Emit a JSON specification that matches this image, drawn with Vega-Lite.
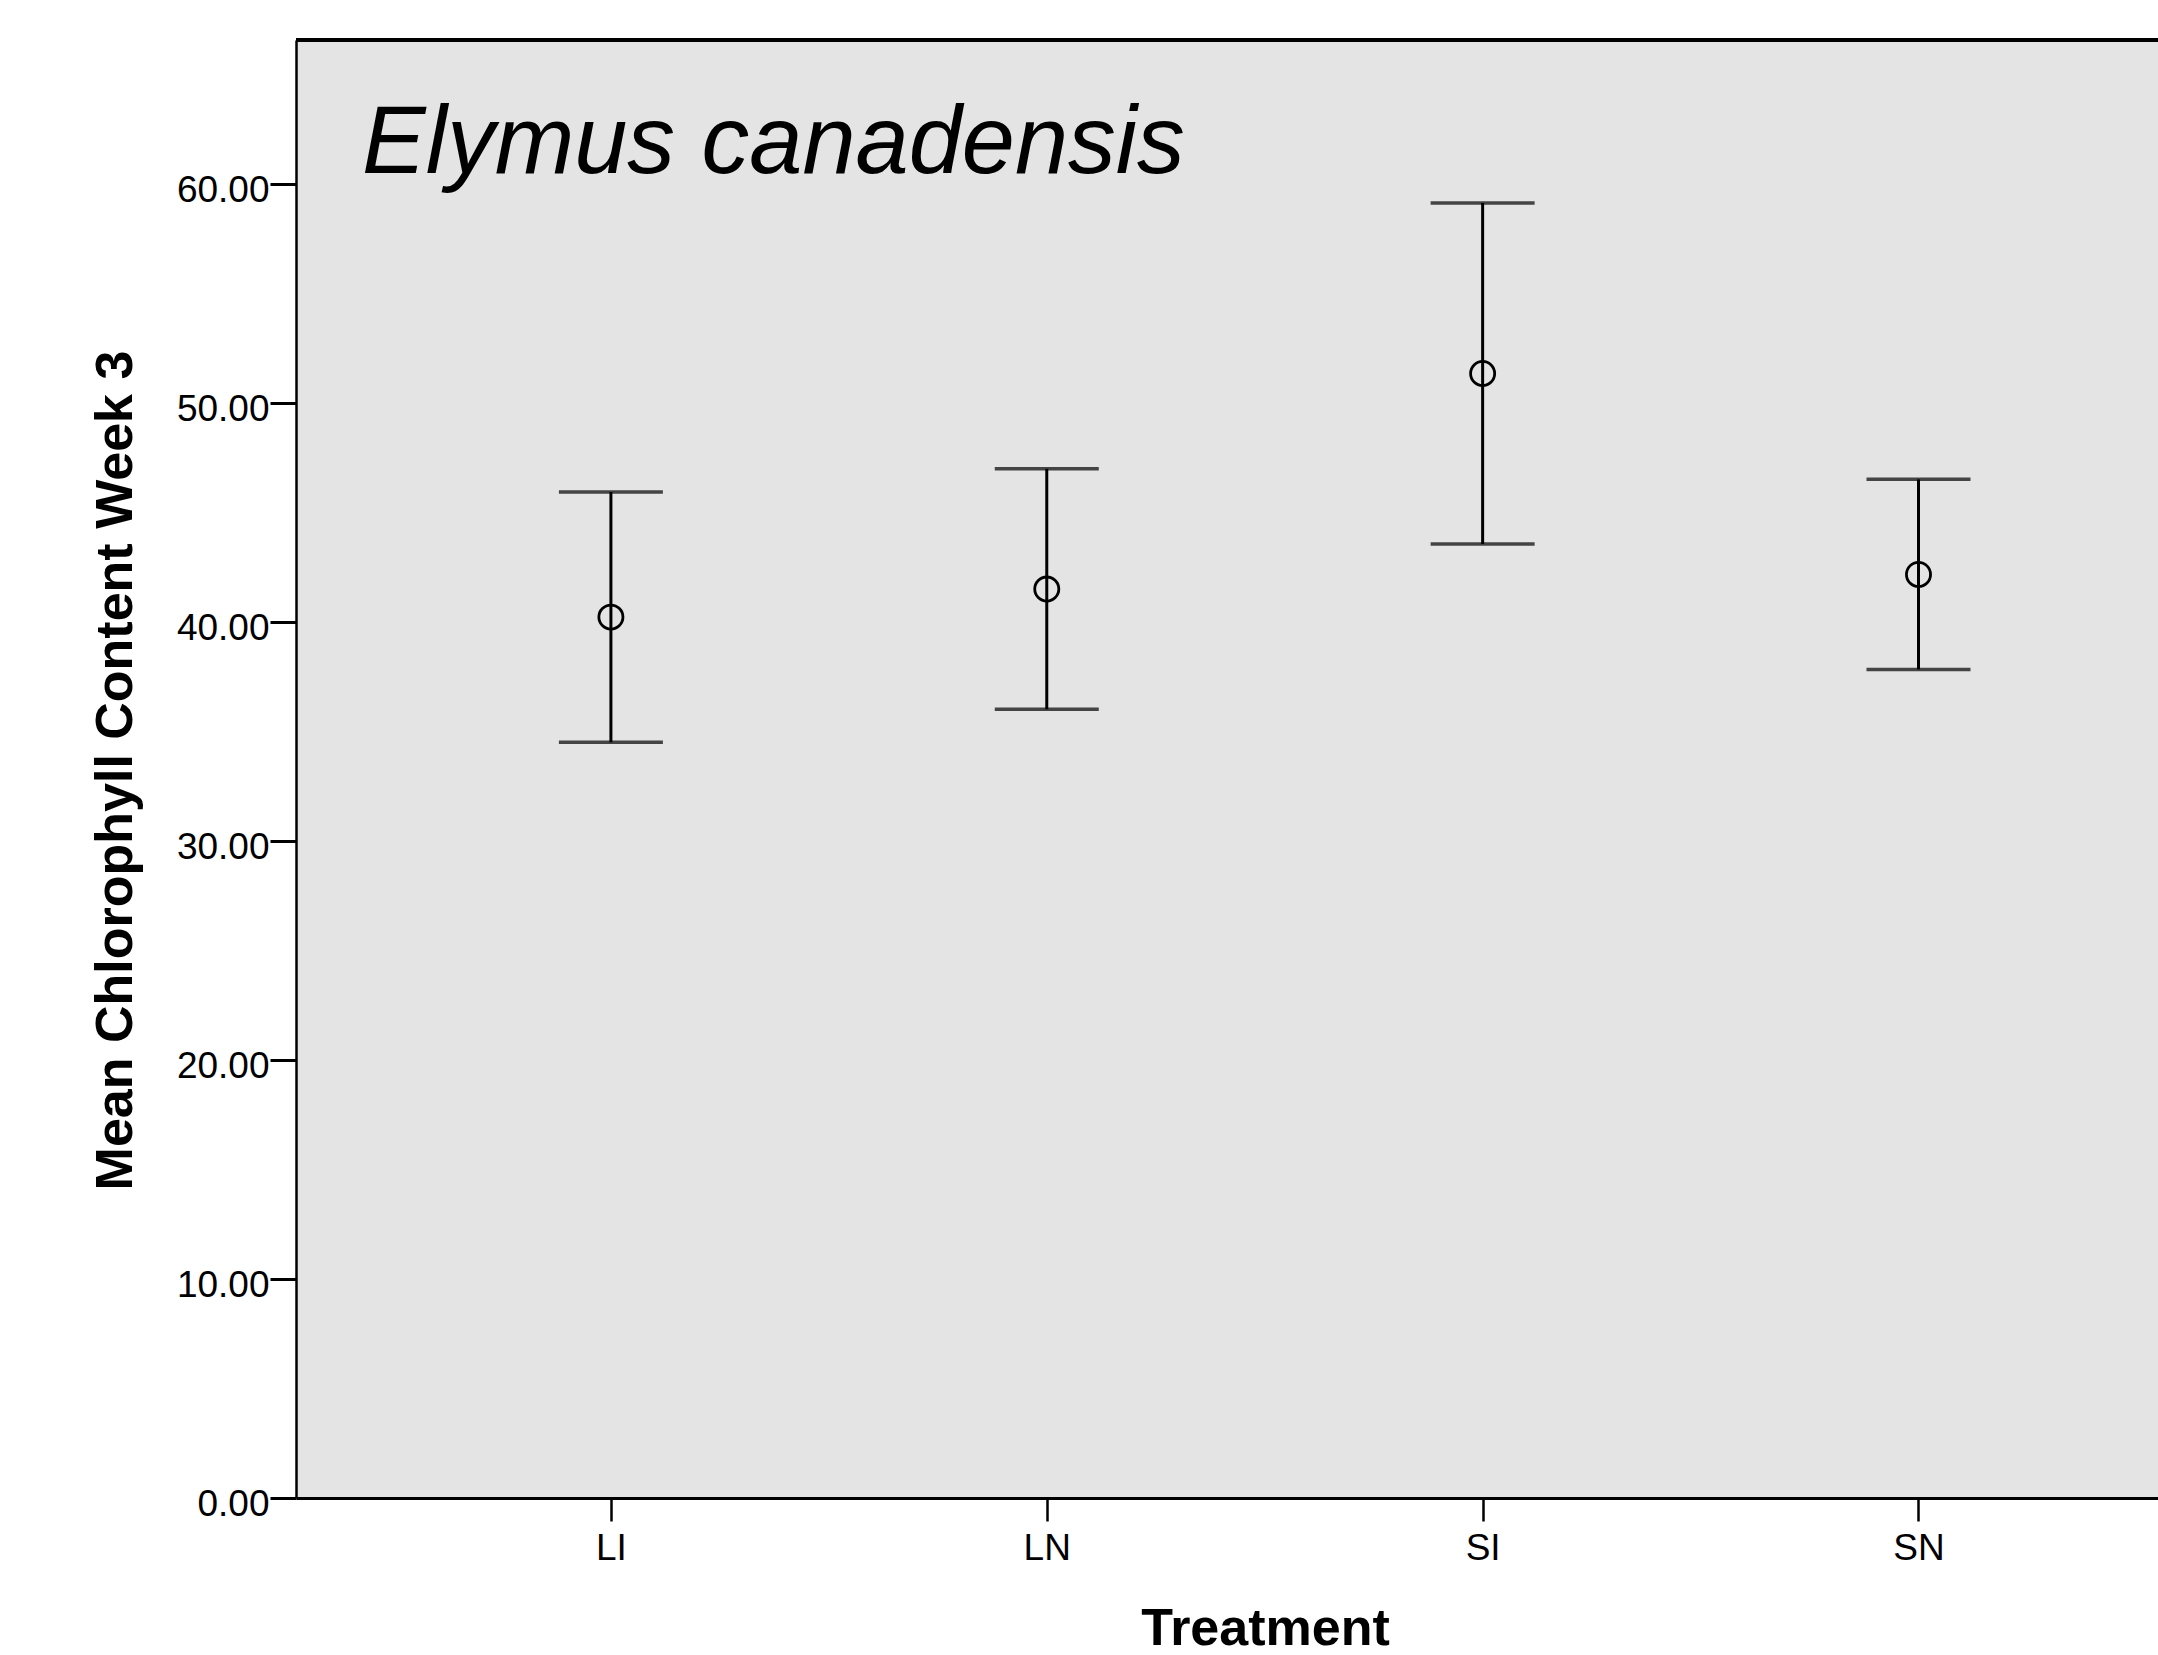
{
  "$schema": "https://vega.github.io/schema/vega-lite/v6.json",
  "autosize": {"type": "none"},
  "padding": {"left": 296, "top": 40, "right": 0, "bottom": 157},
  "width": 1862,
  "height": 1458,
  "background": "white",
  "title": {
    "text": "Elymus canadensis",
    "anchor": "start",
    "frame": "group",
    "orient": "top",
    "baseline": "alphabetic",
    "offset": 0,
    "dx": 66,
    "dy": 230,
    "font": "Liberation Sans",
    "fontSize": 95.5,
    "fontStyle": "italic",
    "fontWeight": "normal",
    "color": "black"
  },
  "config": {
    "view": {"fill": "#e4e4e4", "stroke": null},
    "axis": {
      "grid": false,
      "labelFont": "Liberation Sans",
      "labelColor": "black",
      "labelFontSize": 37,
      "titleFont": "Liberation Sans",
      "titleColor": "black",
      "titleFontSize": 52,
      "titleFontWeight": "bold",
      "domainColor": "black",
      "tickColor": "black"
    }
  },
  "data": {
    "values": [
      {"Treatment": "LI", "mean": 40.24, "lower": 34.52, "upper": 45.95},
      {"Treatment": "LN", "mean": 41.52, "lower": 36.03, "upper": 47.01},
      {"Treatment": "SI", "mean": 51.37, "lower": 43.58, "upper": 59.16},
      {"Treatment": "SN", "mean": 42.19, "lower": 37.85, "upper": 46.53}
    ]
  },
  "layer": [
    {
      "mark": {"type": "rule", "color": "black", "strokeWidth": 3},
      "encoding": {
        "x": {
          "field": "Treatment",
          "type": "nominal",
          "scale": {"type": "point", "domain": ["LI", "LN", "SI", "SN"], "padding": 0.636, "align": 0.568},
          "axis": {
            "title": "Treatment",
            "labelAngle": 0,
            "labelPadding": 9,
            "tickSize": 23,
            "tickWidth": 2.5,
            "domainWidth": 3,
            "titleX": 969,
            "titleY": 146,
            "titleAlign": "center",
            "titleBaseline": "alphabetic"
          }
        },
        "y": {
          "field": "lower",
          "type": "quantitative",
          "scale": {"domain": [0, 66.6], "nice": false, "zero": false},
          "axis": {
            "title": "Mean Chlorophyll Content Week 3",
            "values": [0, 10, 20, 30, 40, 50, 60],
            "format": ".2f",
            "labelPadding": 1,
            "labelOffset": 6,
            "tickSize": 26,
            "tickWidth": 3,
            "domainWidth": 2.5,
            "titleX": -165,
            "titleY": 730,
            "titleAngle": -90,
            "titleAlign": "center",
            "titleBaseline": "alphabetic"
          }
        },
        "y2": {"field": "upper"}
      }
    },
    {
      "mark": {"type": "tick", "color": "black", "thickness": 3.5, "size": 104},
      "encoding": {
        "x": {"field": "Treatment", "type": "nominal"},
        "y": {"field": "lower", "type": "quantitative"}
      }
    },
    {
      "mark": {"type": "tick", "color": "black", "thickness": 3.5, "size": 104},
      "encoding": {
        "x": {"field": "Treatment", "type": "nominal"},
        "y": {"field": "upper", "type": "quantitative"}
      }
    },
    {
      "mark": {"type": "point", "shape": "circle", "filled": false, "color": "black", "strokeWidth": 2.8, "size": 580, "opacity": 1},
      "encoding": {
        "x": {"field": "Treatment", "type": "nominal"},
        "y": {"field": "mean", "type": "quantitative"}
      }
    },
    {
      "mark": {"type": "rule", "color": "black", "strokeWidth": 3.5},
      "encoding": {"y": {"datum": 66.6}}
    }
  ]
}
